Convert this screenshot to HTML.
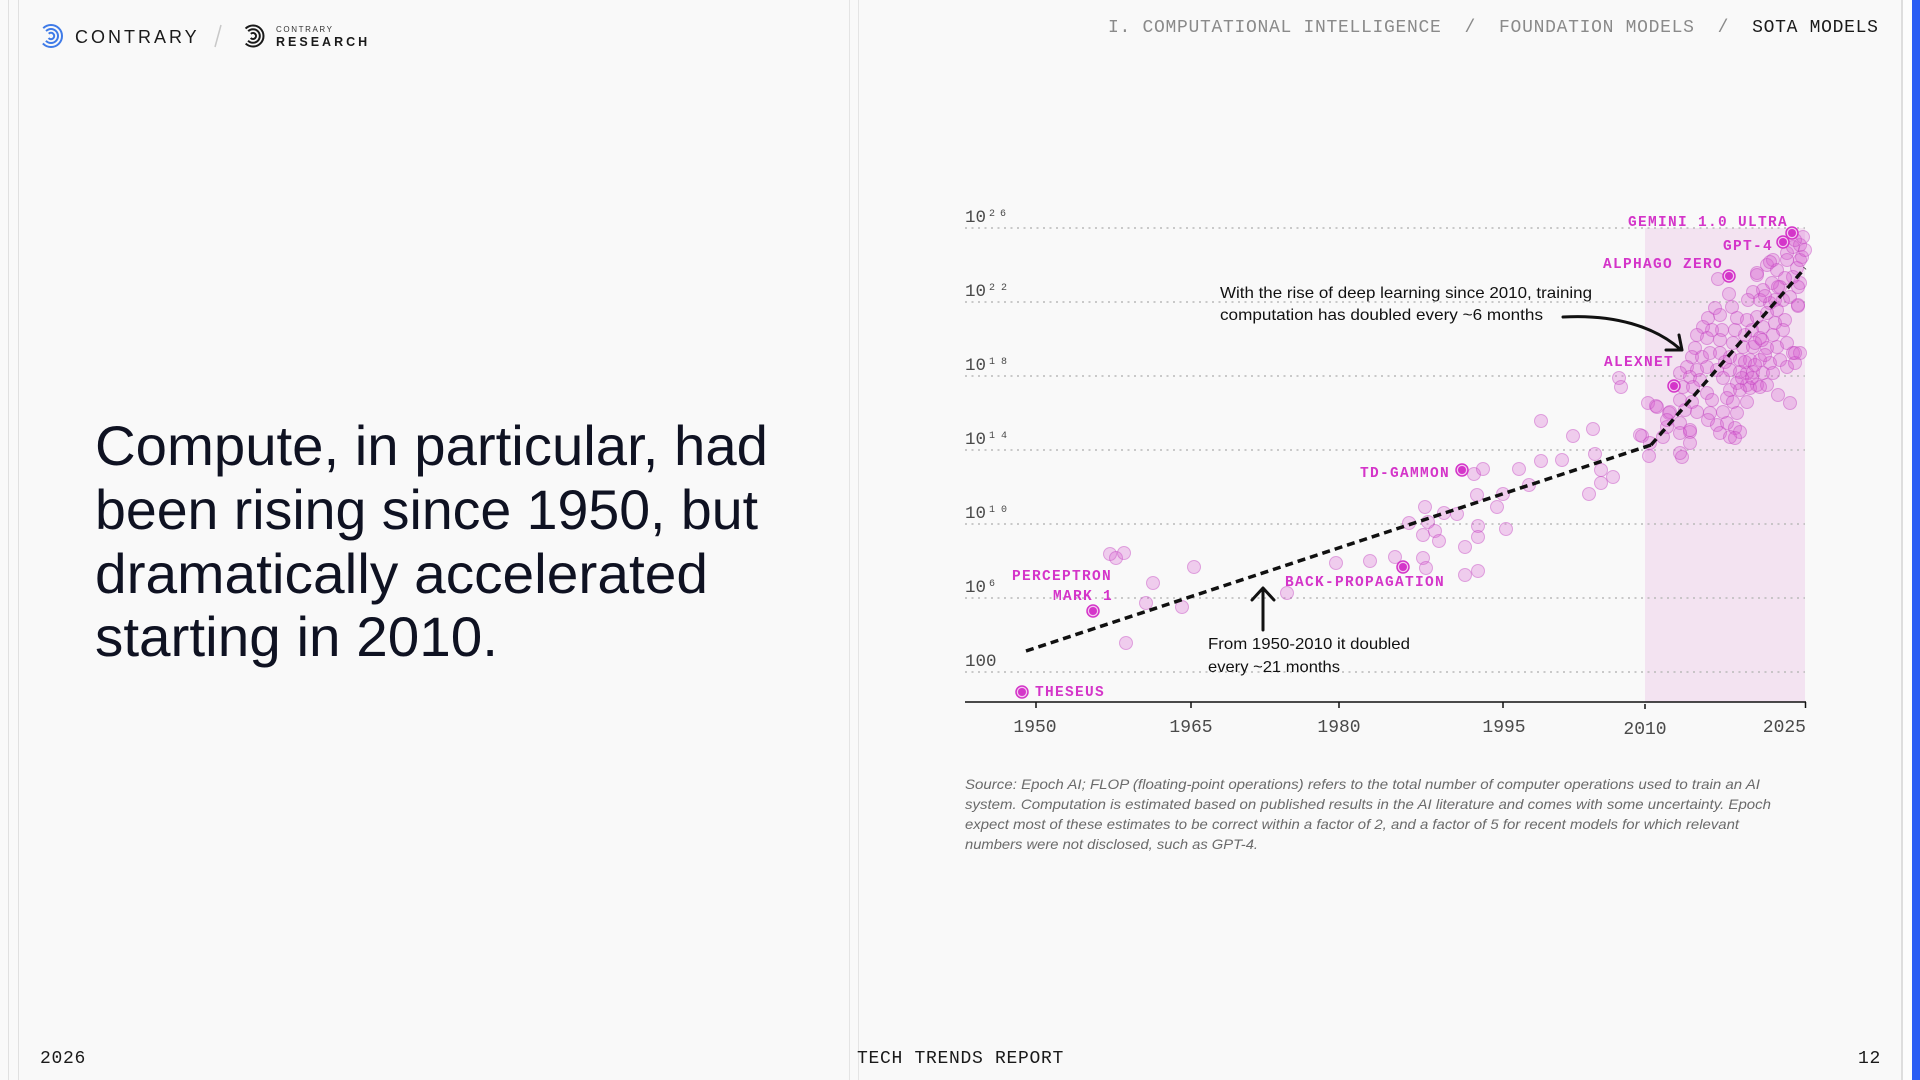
<!DOCTYPE html>
<html>
<head>
<meta charset="utf-8">
<style>
  html, body { margin:0; padding:0; }
  body { width:1920px; height:1080px; background:#f9f9f9; overflow:hidden; position:relative; }
  svg { position:absolute; left:0; top:0; }
  .mono { font-family:"Liberation Mono", monospace; }
  .sans { font-family:"Liberation Sans", sans-serif; }
</style>
</head>
<body>
<svg width="1920" height="1080" viewBox="0 0 1920 1080" xmlns="http://www.w3.org/2000/svg">
  <!-- page frame lines -->
  <rect x="0" y="0" width="1920" height="1080" fill="#f9f9f9"/>
  <line x1="8.5" y1="0" x2="8.5" y2="1080" stroke="#e0e0e0" stroke-width="1"/>
  <line x1="18.5" y1="0" x2="18.5" y2="1080" stroke="#e0e0e0" stroke-width="1"/>
  <line x1="849.5" y1="0" x2="849.5" y2="1080" stroke="#e4e4e4" stroke-width="1"/>
  <line x1="858.5" y1="0" x2="858.5" y2="1080" stroke="#e4e4e4" stroke-width="1"/>
  <rect x="1903" y="0" width="9" height="1080" fill="#fdfdfd"/>
  <line x1="1902" y1="0" x2="1902" y2="1080" stroke="#dedede" stroke-width="2"/>
  <rect x="1912" y="0" width="8" height="1080" fill="#2a5df4"/>

  <!-- logo -->
  <g fill="none" stroke="#3f7be8" stroke-width="2">
    <circle cx="51" cy="36" r="11" stroke-dasharray="52 17" transform="rotate(-135 51 36)"/>
    <circle cx="51" cy="36" r="7" stroke-dasharray="33 11" transform="rotate(-135 51 36)"/>
    <circle cx="51" cy="36" r="3.2" stroke-dasharray="15 5" transform="rotate(-135 51 36)"/>
  </g>
  <text x="75" y="43" class="sans" font-size="18" letter-spacing="3" fill="#1a1a1a">CONTRARY</text>
  <line x1="221" y1="25" x2="215" y2="47" stroke="#c8c8c8" stroke-width="1.5"/>
  <g fill="none" stroke="#1a1a1a" stroke-width="2">
    <circle cx="253" cy="36" r="10.5" stroke-dasharray="49 17" transform="rotate(-135 253 36)"/>
    <circle cx="253" cy="36" r="6.8" stroke-dasharray="32 11" transform="rotate(-135 253 36)"/>
    <circle cx="253" cy="36" r="3" stroke-dasharray="14 5" transform="rotate(-135 253 36)"/>
  </g>
  <text x="276" y="32" class="sans" font-size="8" letter-spacing="1.6" fill="#333">CONTRARY</text>
  <text x="276" y="46" class="sans" font-size="12.5" font-weight="bold" letter-spacing="3" fill="#1a1a1a">RESEARCH</text>

  <!-- header breadcrumb -->
  <text x="1108" y="32" class="mono" font-size="18" letter-spacing="0.7" fill="#8a8a8a" xml:space="preserve">I. COMPUTATIONAL INTELLIGENCE  /  FOUNDATION MODELS  /  <tspan fill="#1a1a1a">SOTA MODELS</tspan></text>

  <!-- headline -->
  <g class="sans" font-size="56" fill="#0f1222">
    <text x="95" y="465" textLength="673" lengthAdjust="spacingAndGlyphs">Compute, in particular, had</text>
    <text x="95" y="529" textLength="663" lengthAdjust="spacingAndGlyphs">been rising since 1950, but</text>
    <text x="95" y="593" textLength="613" lengthAdjust="spacingAndGlyphs">dramatically accelerated</text>
    <text x="95" y="656" textLength="403" lengthAdjust="spacingAndGlyphs">starting in 2010.</text>
  </g>

  <!-- footer -->
  <text x="40" y="1063" class="mono" font-size="18" letter-spacing="0.7" fill="#1a1a1a">2026</text>
  <text x="857" y="1063" class="mono" font-size="18" letter-spacing="0.7" fill="#1a1a1a">TECH TRENDS REPORT</text>
  <text x="1881" y="1063" class="mono" font-size="18" letter-spacing="0.7" fill="#1a1a1a" text-anchor="end">12</text>

  <!-- ============ CHART ============ -->
  <rect x="1645" y="228" width="160" height="474" fill="#f3e3f1"/>

  <g stroke="#b9b9b9" stroke-width="1.5" stroke-dasharray="2 4.5">
    <line x1="965" y1="228" x2="1805" y2="228"/>
    <line x1="965" y1="302" x2="1805" y2="302"/>
    <line x1="965" y1="376" x2="1805" y2="376"/>
    <line x1="965" y1="450" x2="1805" y2="450"/>
    <line x1="965" y1="524" x2="1805" y2="524"/>
    <line x1="965" y1="598" x2="1805" y2="598"/>
    <line x1="965" y1="672" x2="1805" y2="672"/>
  </g>

  <g class="mono" fill="#4a4a4a">
    <text x="965" y="222" font-size="17.5">10</text>
    <text x="989" y="216" font-size="10">2</text><text x="1000" y="216" font-size="10">6</text>
    <text x="965" y="296" font-size="17.5">10</text>
    <text x="989" y="290" font-size="10">2</text><text x="1001" y="290" font-size="10">2</text>
    <text x="965" y="370" font-size="17.5">10</text>
    <text x="989" y="364" font-size="10">1</text><text x="1001" y="364" font-size="10">8</text>
    <text x="965" y="444" font-size="17.5">10</text>
    <text x="989" y="438" font-size="10">1</text><text x="1001" y="438" font-size="10">4</text>
    <text x="965" y="518" font-size="17.5">10</text>
    <text x="989" y="512" font-size="10">1</text><text x="1001" y="512" font-size="10">0</text>
    <text x="965" y="592" font-size="17.5">10</text>
    <text x="989" y="586" font-size="10">6</text>
    <text x="965" y="666" font-size="17.5">100</text>
  </g>

  <line x1="965" y1="702" x2="1806" y2="702" stroke="#111" stroke-width="1.5"/>
  <g stroke="#111" stroke-width="1.5">
    <line x1="1036" y1="702" x2="1036" y2="708"/>
    <line x1="1191" y1="702" x2="1191" y2="708"/>
    <line x1="1339" y1="702" x2="1339" y2="708"/>
    <line x1="1503" y1="702" x2="1503" y2="708"/>
    <line x1="1645" y1="704" x2="1645" y2="709"/>
    <line x1="1805.5" y1="702" x2="1805.5" y2="708"/>
  </g>
  <g class="mono" font-size="18" fill="#4a4a4a" text-anchor="middle">
    <text x="1035" y="732">1950</text>
    <text x="1191" y="732">1965</text>
    <text x="1339" y="732">1980</text>
    <text x="1504" y="732">1995</text>
    <text x="1645" y="734">2010</text>
    <text x="1806" y="732" text-anchor="end">2025</text>
  </g>

  <g fill="#d65bd2" fill-opacity="0.28" stroke="#c13fbe" stroke-opacity="0.42" stroke-width="1">
    <circle cx="1110" cy="554" r="6.5"/><circle cx="1116" cy="558" r="6.5"/><circle cx="1124" cy="553" r="6.5"/>
    <circle cx="1194" cy="567" r="6.5"/><circle cx="1153" cy="583" r="6.5"/><circle cx="1146" cy="603" r="6.5"/>
    <circle cx="1182" cy="607" r="6.5"/><circle cx="1126" cy="643" r="6.5"/><circle cx="1287" cy="593" r="6.5"/>
    <circle cx="1336" cy="563" r="6.5"/><circle cx="1370" cy="561" r="6.5"/><circle cx="1395" cy="557" r="6.5"/>
    <circle cx="1423" cy="558" r="6.5"/><circle cx="1426" cy="568" r="6.5"/><circle cx="1409" cy="523" r="6.5"/>
    <circle cx="1423" cy="535" r="6.5"/><circle cx="1425" cy="507" r="6.5"/><circle cx="1428" cy="522" r="6.5"/>
    <circle cx="1435" cy="531" r="6.5"/><circle cx="1439" cy="541" r="6.5"/><circle cx="1444" cy="513" r="6.5"/>
    <circle cx="1457" cy="514" r="6.5"/><circle cx="1465" cy="547" r="6.5"/><circle cx="1465" cy="575" r="6.5"/>
    <circle cx="1478" cy="571" r="6.5"/><circle cx="1478" cy="526" r="6.5"/><circle cx="1478" cy="537" r="6.5"/>
    <circle cx="1477" cy="495" r="6.5"/><circle cx="1474" cy="474" r="6.5"/><circle cx="1483" cy="469" r="6.5"/>
    <circle cx="1497" cy="507" r="6.5"/><circle cx="1503" cy="494" r="6.5"/><circle cx="1506" cy="529" r="6.5"/>
    <circle cx="1519" cy="469" r="6.5"/><circle cx="1529" cy="485" r="6.5"/><circle cx="1541" cy="461" r="6.5"/>
    <circle cx="1562" cy="460" r="6.5"/><circle cx="1595" cy="454" r="6.5"/><circle cx="1601" cy="470" r="6.5"/>
    <circle cx="1613" cy="477" r="6.5"/><circle cx="1601" cy="483" r="6.5"/><circle cx="1589" cy="494" r="6.5"/>
    <circle cx="1649" cy="456" r="6.5"/><circle cx="1682" cy="457" r="6.5"/>
    <circle cx="1541" cy="421" r="6.5"/><circle cx="1573" cy="436" r="6.5"/><circle cx="1593" cy="429" r="6.5"/>
    <circle cx="1619" cy="378" r="6.5"/><circle cx="1621" cy="387" r="6.5"/><circle cx="1642" cy="436" r="6.5"/>
    <circle cx="1648" cy="403" r="6.5"/><circle cx="1656" cy="406" r="6.5"/><circle cx="1650" cy="443" r="6.5"/>
    <circle cx="1669" cy="413" r="6.5"/><circle cx="1667" cy="427" r="6.5"/><circle cx="1690" cy="432" r="6.5"/>
    <circle cx="1690" cy="443" r="6.5"/>
    <circle cx="1718" cy="279" r="6.5"/><circle cx="1729" cy="294" r="6.5"/>
    <circle cx="1757" cy="273" r="6.5"/><circle cx="1767" cy="265" r="6.5"/><circle cx="1773" cy="260" r="6.5"/>
    <circle cx="1777" cy="270" r="6.5"/><circle cx="1787" cy="253" r="6.5"/><circle cx="1793" cy="247" r="6.5"/>
    <circle cx="1800" cy="245" r="6.5"/><circle cx="1802" cy="257" r="6.5"/><circle cx="1797" cy="268" r="6.5"/>
    <circle cx="1800" cy="283" r="6.5"/><circle cx="1793" cy="277" r="6.5"/><circle cx="1785" cy="278" r="6.5"/>
    <circle cx="1780" cy="287" r="6.5"/><circle cx="1772" cy="283" r="6.5"/><circle cx="1763" cy="290" r="6.5"/>
    <circle cx="1753" cy="292" r="6.5"/><circle cx="1748" cy="300" r="6.5"/><circle cx="1760" cy="300" r="6.5"/>
    <circle cx="1770" cy="303" r="6.5"/><circle cx="1783" cy="300" r="6.5"/><circle cx="1790" cy="297" r="6.5"/>
    <circle cx="1798" cy="306" r="6.5"/><circle cx="1777" cy="310" r="6.5"/><circle cx="1767" cy="313" r="6.5"/>
    <circle cx="1715" cy="308" r="6.5"/><circle cx="1720" cy="315" r="6.5"/><circle cx="1708" cy="318" r="6.5"/>
    <circle cx="1732" cy="307" r="6.5"/><circle cx="1737" cy="318" r="6.5"/><circle cx="1747" cy="320" r="6.5"/>
    <circle cx="1757" cy="317" r="6.5"/><circle cx="1752" cy="330" r="6.5"/><circle cx="1763" cy="327" r="6.5"/>
    <circle cx="1775" cy="323" r="6.5"/><circle cx="1785" cy="320" r="6.5"/><circle cx="1783" cy="330" r="6.5"/>
    <circle cx="1773" cy="335" r="6.5"/><circle cx="1760" cy="338" r="6.5"/><circle cx="1745" cy="335" r="6.5"/>
    <circle cx="1735" cy="330" r="6.5"/><circle cx="1722" cy="330" r="6.5"/><circle cx="1712" cy="330" r="6.5"/>
    <circle cx="1703" cy="327" r="6.5"/><circle cx="1697" cy="335" r="6.5"/><circle cx="1707" cy="338" r="6.5"/>
    <circle cx="1720" cy="340" r="6.5"/><circle cx="1733" cy="343" r="6.5"/><circle cx="1743" cy="347" r="6.5"/>
    <circle cx="1753" cy="347" r="6.5"/><circle cx="1767" cy="348" r="6.5"/><circle cx="1777" cy="347" r="6.5"/>
    <circle cx="1787" cy="343" r="6.5"/>
    <circle cx="1695" cy="348" r="6.5"/><circle cx="1692" cy="357" r="6.5"/><circle cx="1702" cy="357" r="6.5"/>
    <circle cx="1710" cy="353" r="6.5"/><circle cx="1720" cy="353" r="6.5"/><circle cx="1730" cy="357" r="6.5"/>
    <circle cx="1740" cy="360" r="6.5"/><circle cx="1750" cy="360" r="6.5"/><circle cx="1760" cy="360" r="6.5"/>
    <circle cx="1770" cy="363" r="6.5"/><circle cx="1780" cy="360" r="6.5"/><circle cx="1793" cy="353" r="6.5"/>
    <circle cx="1800" cy="353" r="6.5"/><circle cx="1787" cy="367" r="6.5"/><circle cx="1795" cy="363" r="6.5"/>
    <circle cx="1687" cy="367" r="6.5"/><circle cx="1697" cy="370" r="6.5"/><circle cx="1707" cy="367" r="6.5"/>
    <circle cx="1717" cy="370" r="6.5"/><circle cx="1730" cy="370" r="6.5"/><circle cx="1740" cy="372" r="6.5"/>
    <circle cx="1747" cy="373" r="6.5"/><circle cx="1753" cy="372" r="6.5"/><circle cx="1763" cy="373" r="6.5"/>
    <circle cx="1773" cy="373" r="6.5"/>
    <circle cx="1680" cy="373" r="6.5"/><circle cx="1690" cy="377" r="6.5"/><circle cx="1700" cy="380" r="6.5"/>
    <circle cx="1723" cy="378" r="6.5"/><circle cx="1737" cy="383" r="6.5"/><circle cx="1747" cy="385" r="6.5"/>
    <circle cx="1757" cy="385" r="6.5"/><circle cx="1767" cy="385" r="6.5"/>
    <circle cx="1683" cy="387" r="6.5"/><circle cx="1693" cy="387" r="6.5"/><circle cx="1707" cy="393" r="6.5"/>
    <circle cx="1730" cy="390" r="6.5"/><circle cx="1740" cy="390" r="6.5"/><circle cx="1750" cy="388" r="6.5"/>
    <circle cx="1760" cy="387" r="6.5"/><circle cx="1778" cy="395" r="6.5"/><circle cx="1790" cy="403" r="6.5"/>
    <circle cx="1680" cy="400" r="6.5"/><circle cx="1692" cy="402" r="6.5"/><circle cx="1712" cy="400" r="6.5"/>
    <circle cx="1727" cy="398" r="6.5"/><circle cx="1733" cy="402" r="6.5"/><circle cx="1747" cy="402" r="6.5"/>
    <circle cx="1657" cy="407" r="6.5"/><circle cx="1670" cy="412" r="6.5"/><circle cx="1685" cy="410" r="6.5"/>
    <circle cx="1697" cy="412" r="6.5"/><circle cx="1710" cy="413" r="6.5"/><circle cx="1723" cy="412" r="6.5"/>
    <circle cx="1737" cy="413" r="6.5"/>
    <circle cx="1667" cy="420" r="6.5"/><circle cx="1680" cy="423" r="6.5"/><circle cx="1690" cy="430" r="6.5"/>
    <circle cx="1708" cy="420" r="6.5"/><circle cx="1717" cy="425" r="6.5"/><circle cx="1727" cy="423" r="6.5"/>
    <circle cx="1735" cy="428" r="6.5"/><circle cx="1740" cy="432" r="6.5"/>
    <circle cx="1640" cy="435" r="6.5"/><circle cx="1663" cy="437" r="6.5"/><circle cx="1680" cy="433" r="6.5"/>
    <circle cx="1720" cy="433" r="6.5"/><circle cx="1730" cy="437" r="6.5"/><circle cx="1735" cy="438" r="6.5"/>
    <circle cx="1680" cy="453" r="6.5"/>
    <circle cx="1803" cy="237" r="6.5"/><circle cx="1770" cy="262" r="6.5"/><circle cx="1787" cy="260" r="6.5"/>
    <circle cx="1800" cy="260" r="6.5"/><circle cx="1757" cy="275" r="6.5"/><circle cx="1778" cy="287" r="6.5"/>
    <circle cx="1798" cy="287" r="6.5"/><circle cx="1798" cy="305" r="6.5"/><circle cx="1795" cy="353" r="6.5"/>
    <circle cx="1755" cy="343" r="6.5"/>
    <circle cx="1805" cy="250" r="6.5"/><circle cx="1795" cy="240" r="6.5"/>
    <circle cx="1745" cy="362" r="6.5"/><circle cx="1755" cy="365" r="6.5"/><circle cx="1765" cy="355" r="6.5"/>
    <circle cx="1742" cy="378" r="6.5"/><circle cx="1752" cy="378" r="6.5"/><circle cx="1762" cy="340" r="6.5"/>
    <circle cx="1775" cy="300" r="6.5"/><circle cx="1765" cy="296" r="6.5"/><circle cx="1725" cy="362" r="6.5"/>
  </g>

  <g stroke="#111" stroke-width="3.5" stroke-dasharray="8 5" fill="none">
    <line x1="1026" y1="651" x2="1651" y2="445"/>
    <line x1="1651" y1="445" x2="1805" y2="268"/>
  </g>

  <g>
    <g fill="#f3c6ef" stroke="#d435c9" stroke-width="1.5">
      <circle cx="1792" cy="233" r="6"/><circle cx="1783" cy="242" r="6"/><circle cx="1729" cy="276" r="6"/>
      <circle cx="1674" cy="386" r="6"/><circle cx="1462" cy="470" r="6"/><circle cx="1403" cy="567" r="6"/>
      <circle cx="1093" cy="611" r="6"/><circle cx="1022" cy="692" r="6"/>
    </g>
    <g fill="#d435c9">
      <circle cx="1792" cy="233" r="4"/><circle cx="1783" cy="242" r="4"/><circle cx="1729" cy="276" r="4"/>
      <circle cx="1674" cy="386" r="4"/><circle cx="1462" cy="470" r="4"/><circle cx="1403" cy="567" r="4"/>
      <circle cx="1093" cy="611" r="4"/><circle cx="1022" cy="692" r="4"/>
    </g>
  </g>

  <g class="mono" font-size="14.5" font-weight="bold" letter-spacing="1.3" fill="#d435c9">
    <text x="1628" y="226">GEMINI 1.0 ULTRA</text>
    <text x="1723" y="250">GPT-4</text>
    <text x="1603" y="268">ALPHAGO ZERO</text>
    <text x="1604" y="366">ALEXNET</text>
    <text x="1360" y="477">TD-GAMMON</text>
    <text x="1012" y="580">PERCEPTRON</text>
    <text x="1053" y="600">MARK 1</text>
    <text x="1285" y="586">BACK-PROPAGATION</text>
    <text x="1035" y="696">THESEUS</text>
  </g>

  <g class="sans" font-size="16" fill="#111">
    <text x="1220" y="298" textLength="372" lengthAdjust="spacingAndGlyphs">With the rise of deep learning since 2010, training</text>
    <text x="1220" y="320" textLength="323" lengthAdjust="spacingAndGlyphs">computation has doubled every ~6 months</text>
    <text x="1208" y="649" textLength="202" lengthAdjust="spacingAndGlyphs">From 1950-2010 it doubled</text>
    <text x="1208" y="672" textLength="132" lengthAdjust="spacingAndGlyphs">every ~21 months</text>
  </g>
  <g stroke="#111" stroke-width="3" fill="none" stroke-linecap="round" stroke-linejoin="round">
    <path d="M1563,317 C1615,314 1655,327 1680,349"/>
    <path d="M1679,335 L1682,350 L1666,350"/>
    <line x1="1263" y1="630" x2="1263" y2="589"/>
    <path d="M1252,600 L1263,588 L1274,600"/>
  </g>

  <g class="sans" font-size="14" font-style="italic" fill="#6a6a6a">
    <text x="965" y="789" textLength="795" lengthAdjust="spacingAndGlyphs">Source: Epoch AI; FLOP (floating-point operations) refers to the total number of computer operations used to train an AI</text>
    <text x="965" y="809" textLength="806" lengthAdjust="spacingAndGlyphs">system. Computation is estimated based on published results in the AI literature and comes with some uncertainty. Epoch</text>
    <text x="965" y="829" textLength="774" lengthAdjust="spacingAndGlyphs">expect most of these estimates to be correct within a factor of 2, and a factor of 5 for recent models for which relevant</text>
    <text x="965" y="849" textLength="293" lengthAdjust="spacingAndGlyphs">numbers were not disclosed, such as GPT-4.</text>
  </g>
</svg>
</body>
</html>
